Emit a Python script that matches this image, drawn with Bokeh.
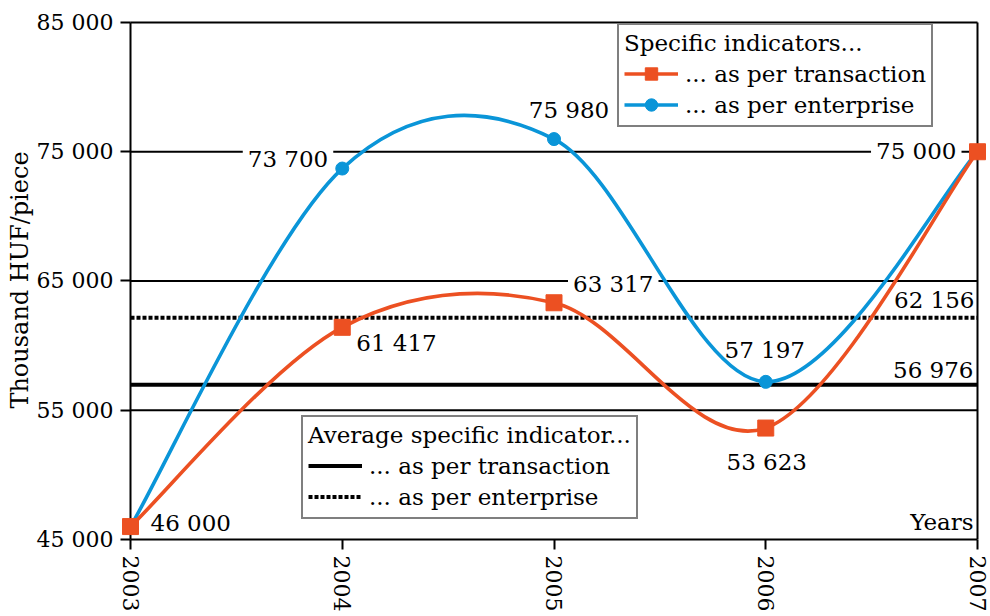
import numpy as np
from bokeh.plotting import figure
from bokeh.models import Range1d, FixedTicker, Label, Legend, LegendItem
from bokeh.embed import file_html
from bokeh.resources import INLINE

# ---------------- data ----------------
years = [2003, 2004, 2005, 2006, 2007]
per_transaction = [46000, 61417, 63317, 53623, 75000]
per_enterprise = [46000, 73700, 75980, 57197, 75000]
avg_transaction = 56976
avg_enterprise = 62156
y_ticks = [45000, 55000, 65000, 75000, 85000]
y_tick_labels = ["45 000", "55 000", "65 000", "75 000", "85 000"]
x_tick_labels = ["2003", "2004", "2005", "2006", "2007"]

def fmt(v):
    return f"{v:,}".replace(",", " ")

# ---------------- style / layout ----------------
FONT = "DejaVu Serif"
FS_TEXT = "23px"
FS_YTICK = "22px"
FS_XTICK = "22px"
FS_AXIS = "24px"
ORANGE = "#EC5022"
BLUE = "#0A95D8"
W, H = 990, 614
MB_L, MB_R, MB_T, MB_B = 120, 0, 20, 74
PAD_L, PAD_R, PAD_T = 10, 13, 2   # px between frame edge and first/last data position

frame_w = W - MB_L - MB_R
frame_h = H - MB_T - MB_B
ppx = (frame_w - PAD_L - PAD_R) / (years[-1] - years[0])
x_range = Range1d(years[0] - PAD_L / ppx, years[-1] + PAD_R / ppx)
ppy = (frame_h - PAD_T) / (y_ticks[-1] - y_ticks[0])
y_range = Range1d(y_ticks[0], y_ticks[-1] + PAD_T / ppy)

p = figure(width=W, height=H, x_range=x_range, y_range=y_range,
           output_backend="svg", toolbar_location=None,
           min_border_left=MB_L, min_border_right=MB_R,
           min_border_top=MB_T, min_border_bottom=MB_B)
p.outline_line_color = None
p.grid.visible = False
p.background_fill_color = "white"
p.border_fill_color = "white"

# x axis
xa = p.xaxis[0]
xa.ticker = FixedTicker(ticks=years)
xa.major_label_overrides = {y: s for y, s in zip(years, x_tick_labels)}
xa.major_label_orientation = "vertical"
xa.major_tick_out = 10
xa.major_tick_in = 0
xa.major_tick_line_width = 2
xa.axis_line_width = 2
xa.bounds = (years[0], years[-1])
xa.major_label_standoff = 6
xa.major_label_text_font = FONT
xa.major_label_text_font_size = FS_XTICK
xa.major_label_text_color = "black"

# y axis
ya = p.yaxis[0]
ya.ticker = FixedTicker(ticks=y_ticks)
ya.major_label_overrides = {v: s for v, s in zip(y_ticks, y_tick_labels)}
ya.major_tick_in = PAD_L
ya.major_tick_out = 0
ya.major_tick_line_width = 2
ya.axis_line_color = None
ya.major_label_standoff = 7
ya.major_label_text_font = FONT
ya.major_label_text_font_size = FS_YTICK
ya.major_label_text_color = "black"
ya.axis_label = "Thousand HUF/piece"
ya.axis_label_text_font = FONT
ya.axis_label_text_font_size = FS_AXIS
ya.axis_label_text_font_style = "normal"
ya.axis_label_text_color = "black"
ya.axis_label_standoff = 0

# frame lines: horizontal rules, left and right verticals
hv = y_ticks[1:]
p.segment(x0=[years[0]] * len(hv), y0=hv, x1=[years[-1]] * len(hv), y1=hv,
          line_color="black", line_width=1.8, level="image")
p.segment(x0=[years[0], years[-1]], y0=[y_ticks[0]] * 2,
          x1=[years[0], years[-1]], y1=[y_ticks[-1]] * 2,
          line_color="black", line_width=2, level="image")

# average lines
r_avg_t = p.line([years[0], years[-1]], [avg_transaction] * 2,
                 line_color="black", line_width=4, level="image")
r_avg_e = p.line([years[0], years[-1]], [avg_enterprise] * 2,
                 line_color="black", line_width=4, line_dash="4 2", level="image")

# smooth curves (Catmull-Rom as cubic Bezier segments)
def bezier_ctrl(xs, ys):
    x = np.asarray(xs, float)
    y = np.asarray(ys, float)
    xp = np.concatenate([[x[0]], x, [x[-1]]])
    yp = np.concatenate([[y[0]], y, [y[-1]]])
    return dict(
        x0=x[:-1], y0=y[:-1], x1=x[1:], y1=y[1:],
        cx0=x[:-1] + (xp[2:-1] - xp[:-3]) / 6,
        cy0=y[:-1] + (yp[2:-1] - yp[:-3]) / 6,
        cx1=x[1:] - (xp[3:] - xp[1:-2]) / 6,
        cy1=y[1:] - (yp[3:] - yp[1:-2]) / 6,
    )

r_curve_e = p.bezier(**bezier_ctrl(years, per_enterprise), line_color=BLUE, line_width=3.6)
r_curve_t = p.bezier(**bezier_ctrl(years, per_transaction), line_color=ORANGE, line_width=3.6)
r_mark_e = p.scatter(years, per_enterprise, marker="circle", size=13,
                     fill_color=BLUE, line_color=BLUE)
r_mark_t = p.scatter(years, per_transaction, marker="square", size=16,
                     fill_color=ORANGE, line_color=ORANGE)

# legends
def style_legend(lg):
    lg.title_text_font = FONT
    lg.title_text_font_size = FS_TEXT
    lg.title_text_font_style = "normal"
    lg.title_text_color = "black"
    lg.title_standoff = 2
    lg.label_text_font = FONT
    lg.label_text_font_size = FS_TEXT
    lg.label_text_color = "black"
    lg.glyph_width = 54
    lg.glyph_height = 31
    lg.label_height = 31
    lg.label_standoff = 7
    lg.spacing = 0
    lg.padding = 5
    lg.margin = 0
    lg.border_line_color = "black"
    lg.border_line_width = 2
    lg.background_fill_color = "white"
    lg.background_fill_alpha = 1

leg1 = Legend(items=[
    LegendItem(label="... as per transaction", renderers=[r_curve_t, r_mark_t]),
    LegendItem(label="... as per enterprise", renderers=[r_curve_e, r_mark_e]),
], title="Specific indicators...", location=(497, 412))
style_legend(leg1)
p.add_layout(leg1)

leg2 = Legend(items=[
    LegendItem(label="... as per transaction", renderers=[r_avg_t]),
    LegendItem(label="... as per enterprise", renderers=[r_avg_e]),
], title="Average specific indicator...", location=(181, 20))
style_legend(leg2)
p.add_layout(leg2)

# value labels
def add_label(x, y, text, dx, dy, align, bg=False):
    lab = Label(x=x, y=y, text=text, x_offset=dx, y_offset=dy,
                text_align=align, text_baseline="middle",
                text_font=FONT, text_font_size=FS_TEXT, text_color="black")
    if bg:
        lab.background_fill_color = "white"
        lab.padding = 5
        lab.level = "underlay"
    p.add_layout(lab)

add_label(years[0], per_transaction[0], fmt(per_transaction[0]), 20, 4, "left")
add_label(years[1], per_enterprise[1], fmt(per_enterprise[1]), -9, 10, "right", bg=True)
add_label(years[1], per_transaction[1], fmt(per_transaction[1]), 14, -16, "left")
add_label(years[2], per_enterprise[2], fmt(per_enterprise[2]), 15, 29, "center")
add_label(years[2], per_transaction[2], fmt(per_transaction[2]), 14, 19, "left", bg=True)
add_label(years[3], per_enterprise[3], fmt(per_enterprise[3]), -1, 32, "center")
add_label(years[3], per_transaction[3], fmt(per_transaction[3]), 1, -34, "center")
add_label(years[4], per_transaction[4], fmt(per_transaction[4]), -16, 1, "right", bg=True)
add_label(years[-1], avg_enterprise, fmt(avg_enterprise), -3, 18, "right")
add_label(years[-1], avg_transaction, fmt(avg_transaction), -4, 15, "right")
add_label(years[-1], y_ticks[0], "Years", -4, 18, "right")

open("out.html", "w").write(file_html(p, INLINE))
